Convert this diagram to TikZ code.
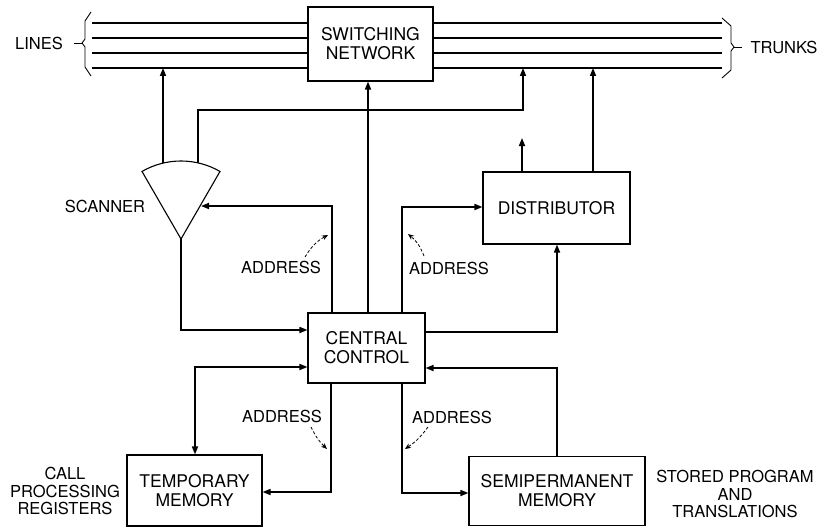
\documentclass[tikz,border=0pt]{standalone}
\usepackage{fontspec}
\setmainfont{TeX Gyre Heros}
\usetikzlibrary{arrows.meta}
\newcommand\boxfont{\fontsize{17.5}{19}\selectfont}
\newcommand\sidefont{\fontsize{16.5}{17.5}\selectfont}
\begin{document}
\begin{tikzpicture}[x=1pt,y=-1pt,
  conn/.style={line width=1.6pt},
  arr/.style={conn,-{Triangle[length=8pt,width=6pt]}},
  darr/.style={conn,{Triangle[length=8pt,width=6pt]}-{Triangle[length=8pt,width=6pt]}},
  box/.style={draw,line width=1.1pt,align=center,inner sep=0pt,font=\boxfont},
  side/.style={align=center,inner sep=0pt,font=\sidefont},
  addr/.style={inner sep=0pt,font=\sidefont},
  daddr/.style={line width=0.8pt,dash pattern=on 3pt off 2pt,-{Stealth[length=6pt,width=5pt]}},
  bus/.style={line width=1.3pt},
  brace/.style={line width=0.9pt}]
\useasboundingbox (0,0) rectangle (823,527);

% boxes
\node[box,minimum width=125pt,minimum height=74pt] (sn) at (370.5,44) {SWITCHING\\NETWORK};
\node[box,minimum width=117pt,minimum height=70pt] (cc) at (366.5,348) {CENTRAL\\CONTROL};
\node[box,minimum width=147pt,minimum height=72pt] (dist) at (556.5,208) {DISTRIBUTOR};
\node[box,minimum width=135pt,minimum height=71pt] (tm) at (194.5,490.5) {TEMPORARY\\MEMORY};
\node[box,minimum width=176pt,minimum height=69pt] (sm) at (557,491) {SEMIPERMANENT\\MEMORY};

% side labels
\node[side] (lines) at (39,43) {LINES};
\node[side] (trunks) at (784,47) {TRUNKS};
\node[side] (cpr) at (65,491) {CALL\\PROCESSING\\REGISTERS};
\node[side] (spt) at (735,494) {STORED PROGRAM\\AND\\TRANSLATIONS};
\node[side] (scl) at (105,206) {SCANNER};

% bus lines
\foreach \yy/\nm in {23/a,38/b,53/c,68/d}{
  \coordinate (L\nm) at (92,\yy);
  \coordinate (R\nm) at (722,\yy);
  \draw[bus] (L\nm) -- (sn.west |- L\nm);
  \draw[bus] (sn.east |- R\nm) -- (R\nm);
}

% braces
\draw[brace] (91,12) -- (85,21) -- (85,39) -- (82,43) -- (85,47) -- (85,67) -- (91,76);
\draw[brace] (74,43) -- (82,43);
\draw[brace] (722,18) -- (731,26) -- (731,43) -- (734,47) -- (731,51) -- (731,70) -- (722,78);
\draw[brace] (734,47) -- (742,47);

% scanner
\coordinate (apex) at (181,239);
\draw[line width=1.1pt] (apex) -- ++(-60:78) arc[start angle=-60,end angle=-120,radius=78] -- cycle;
\coordinate (scTL) at (163,163);
\coordinate (scTR) at (198,163);
\coordinate (scR) at (201,206);

% connectors
\draw[arr] (scTL) -- (Ld -| scTL);
\draw[arr] (scTR) -- (198,110) -| (Rd -| 523,0);
\draw[arr] (cc.north -| 368,0) -- (sn.south -| 368,0);
\draw[arr] (cc.north -| 332,0) |- (scR);
\draw[arr] (apex) |- (cc.west |- 0,330);
\draw[arr] (cc.north -| 402,0) |- (dist.west |- 0,207);
\draw[arr] (cc.east |- 0,332) -| (dist.south -| 557,0);
\coordinate (dout) at (522,138);
\draw[arr] (dist.north -| dout) -- (dout);
\draw[arr] (dist.north -| 593,0) -- (Rd -| 593,0);
\draw[darr] (cc.west |- 0,367) -| (tm.north -| 195,0);
\draw[arr] (cc.south -| 331,0) |- (tm.east |- 0,492);
\draw[arr] (cc.south -| 402,0) |- (sm.west |- 0,493);
\draw[arr] (sm.north -| 557,0) |- (cc.east |- 0,368);

% address labels
\node[addr] (a1) at (281,267) {ADDRESS};
\node[addr] (a2) at (449,268) {ADDRESS};
\node[addr] (a3) at (282,416) {ADDRESS};
\node[addr] (a4) at (452,417) {ADDRESS};
\coordinate (a1t) at (328,235);
\coordinate (a2t) at (408,234);
\coordinate (a3t) at (327,449);
\coordinate (a4t) at (405,449);
\draw[daddr] (305,257) to[bend left=15] (a1t);
\draw[daddr] (424,256) to[bend right=15] (a2t);
\draw[daddr] (311,427) to[bend right=10] (a3t);
\draw[daddr] (428,427) to[bend left=10] (a4t);
\end{tikzpicture}
\end{document}
